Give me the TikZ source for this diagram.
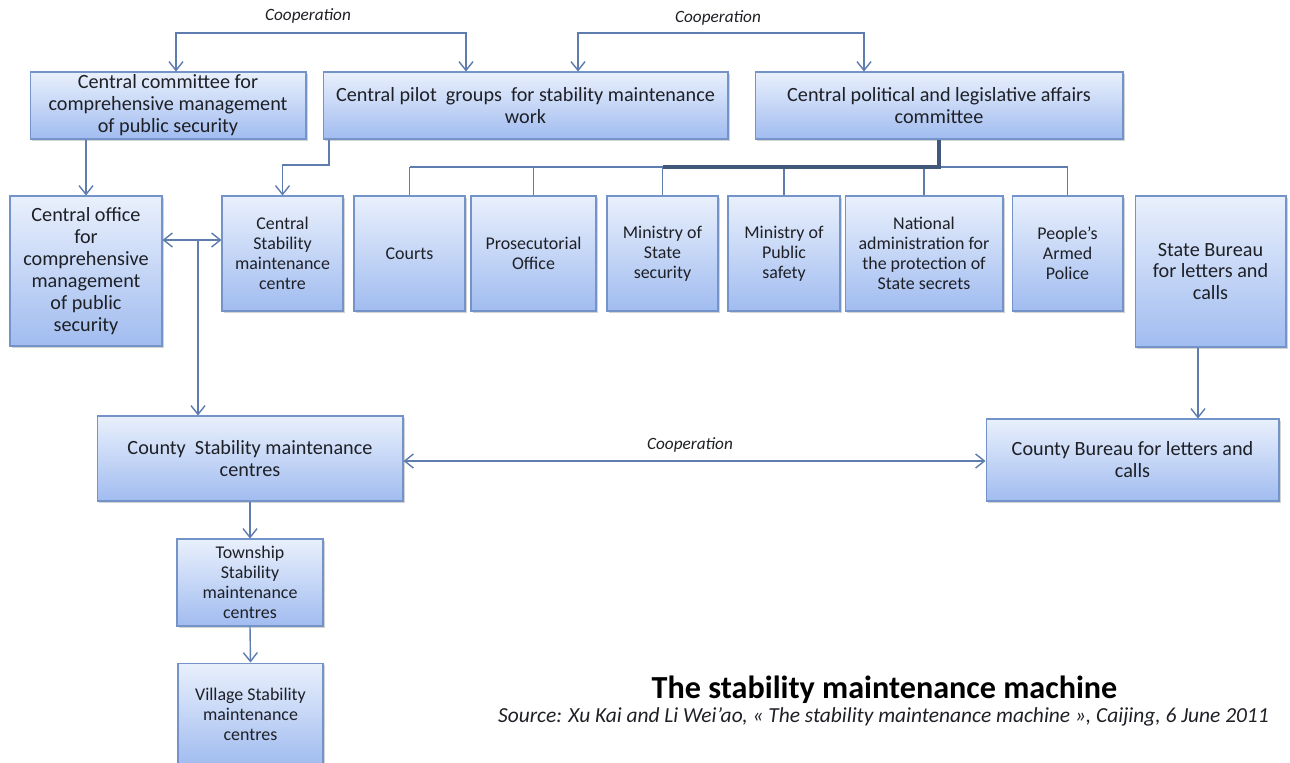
\documentclass[tikz,border=0pt]{standalone}
\usepackage{fontspec}
\setmainfont{Carlito}
\usetikzlibrary{arrows.meta,shadows}
\definecolor{boxtop}{HTML}{E9F0FC}
\definecolor{boxbot}{HTML}{A1BCF0}
\definecolor{boxline}{HTML}{7393C9}
\definecolor{linkc}{HTML}{5E7DAE}
\definecolor{inkc}{HTML}{1E2026}
\begin{document}
\begin{tikzpicture}[x=0.02cm, y=-0.02cm,
  main/.style = {draw=boxline, line width=0.6pt, top color=boxtop, bottom color=boxbot, drop shadow={shadow xshift=1.2pt, shadow yshift=-1.2pt, opacity=0.35}, align=center, inner sep=1pt, text=inkc},
  big/.style = {main, font=\fontsize{11.5}{12.5}\selectfont},
  small/.style = {main, font=\fontsize{10.2}{11.4}\selectfont, minimum height=2.3cm},
  link/.style = {draw=linkc, line width=0.8pt},
  arr/.style = {link, -{Straight Barb[length=5pt, width=8pt]}},
  darr/.style = {link, {Straight Barb[length=5pt, width=8pt]}-{Straight Barb[length=5pt, width=8pt]}},
  bar/.style = {draw=linkc!70!black, line width=2pt},
  coop/.style = {font=\fontsize{9.8}{11}\selectfont\itshape, text=inkc}]
\useasboundingbox (0,0) rectangle (1290,762);

\node[big, minimum width=5.52cm, minimum height=1.34cm] (1) at (168,105.5) {Central committee for\\comprehensive management\\of public security};
\node[big, minimum width=8.10cm, minimum height=1.34cm] (2) at (525.5,105.5) {Central pilot\ \ groups\ \ for stability maintenance\\work};
\node[big, minimum width=7.36cm, minimum height=1.34cm] (3) at (939,105.5) {Central political and legislative affairs\\committee};
\node[big, minimum width=3.04cm, minimum height=3.00cm] (4) at (86,271) {Central office\\for\\comprehensive\\management\\of public\\security};
\node[small, minimum width=2.42cm] (5) at (282.5,253.5) {Central\\Stability\\maintenance\\centre};
\node[small, minimum width=2.22cm] (6) at (409.5,253.5) {Courts};
\node[small, minimum width=2.50cm] (7) at (533.5,253.5) {Prosecutorial\\Office};
\node[small, minimum width=2.22cm] (8) at (662.5,253.5) {Ministry of\\State\\security};
\node[small, minimum width=2.24cm] (9) at (784,253.5) {Ministry of\\Public\\safety};
\node[small, minimum width=3.16cm] (10) at (924,253.5) {National\\administration for\\the protection of\\State secrets};
\node[small, minimum width=2.22cm] (11) at (1067.5,253.5) {People’s\\Armed\\Police};
\node[big, minimum width=3.02cm, minimum height=3.02cm] (12) at (1210.5,271.5) {State Bureau\\for letters and\\calls};
\node[big, minimum width=6.12cm, minimum height=1.70cm] (13) at (250,458.5) {County\ \ Stability maintenance\\centres};
\node[big, minimum width=5.86cm, minimum height=1.64cm] (14) at (1132.5,460) {County Bureau for letters and\\calls};
\node[small, minimum width=2.92cm, minimum height=1.74cm] (15) at (250,582.5) {Township\\Stability\\maintenance\\centres};
\node[small, minimum width=2.90cm, minimum height=2.04cm] (16) at (250.5,714) {Village Stability\\maintenance\\centres};

\node[coop] (l1) at (308,16) {Cooperation};
\node[coop] (l2) at (718,18) {Cooperation};
\node[coop] (l3) at (690,445) {Cooperation};
\node[font=\bfseries\fontsize{18.3}{20}\selectfont, text=black] (t) at (884.5,690) {The stability maintenance machine};
\node[font=\itshape\fontsize{12.2}{14}\selectfont, text=inkc] (s) at (883.5,717) {Source: Xu Kai and Li Wei’ao, « The stability maintenance machine », Caijing, 6 June 2011};

\coordinate (a) at (176,33);
\coordinate (b) at (466,33);
\coordinate (c) at (578,33);
\coordinate (d) at (864,33);
\coordinate (e) at (329,165);
\coordinate (f) at (198,240);
\coordinate (h) at (939,167);
\coordinate (k) at (1198,380);
\coordinate (m) at (687,461);

\draw[darr] (1.north -| a) -- (a) -- (b) -- (2.north -| b);
\draw[darr] (2.north -| c) -- (c) -- (d) -- (3.north -| d);
\draw[arr] (1.south -| 4.north) -- (4.north);
\draw[arr] (2.south -| e) -- (e) -| (5.north);
\draw[darr] (4.east |- f) -- (5.west |- f);
\draw[arr] (f) -- (13.north -| f);
\draw[link] (6.north |- h) -- (11.north |- h);
\draw[link] (6.north) -- (6.north |- h);
\draw[link] (7.north) -- (7.north |- h);
\draw[link] (8.north) -- (8.north |- h);
\draw[link] (9.north) -- (9.north |- h);
\draw[link] (10.north) -- (10.north |- h);
\draw[link] (11.north) -- (11.north |- h);
\draw[bar] (3.south) -- (h) -- (8.north |- h);
\draw[arr] (12.south -| k) -- (14.north -| k);
\draw[darr] (13.east |- m) -- (14.west |- m);
\draw[arr] (13.south) -- (15.north);
\draw[arr] (15.south) -- (16.north);
\end{tikzpicture}
\end{document}
